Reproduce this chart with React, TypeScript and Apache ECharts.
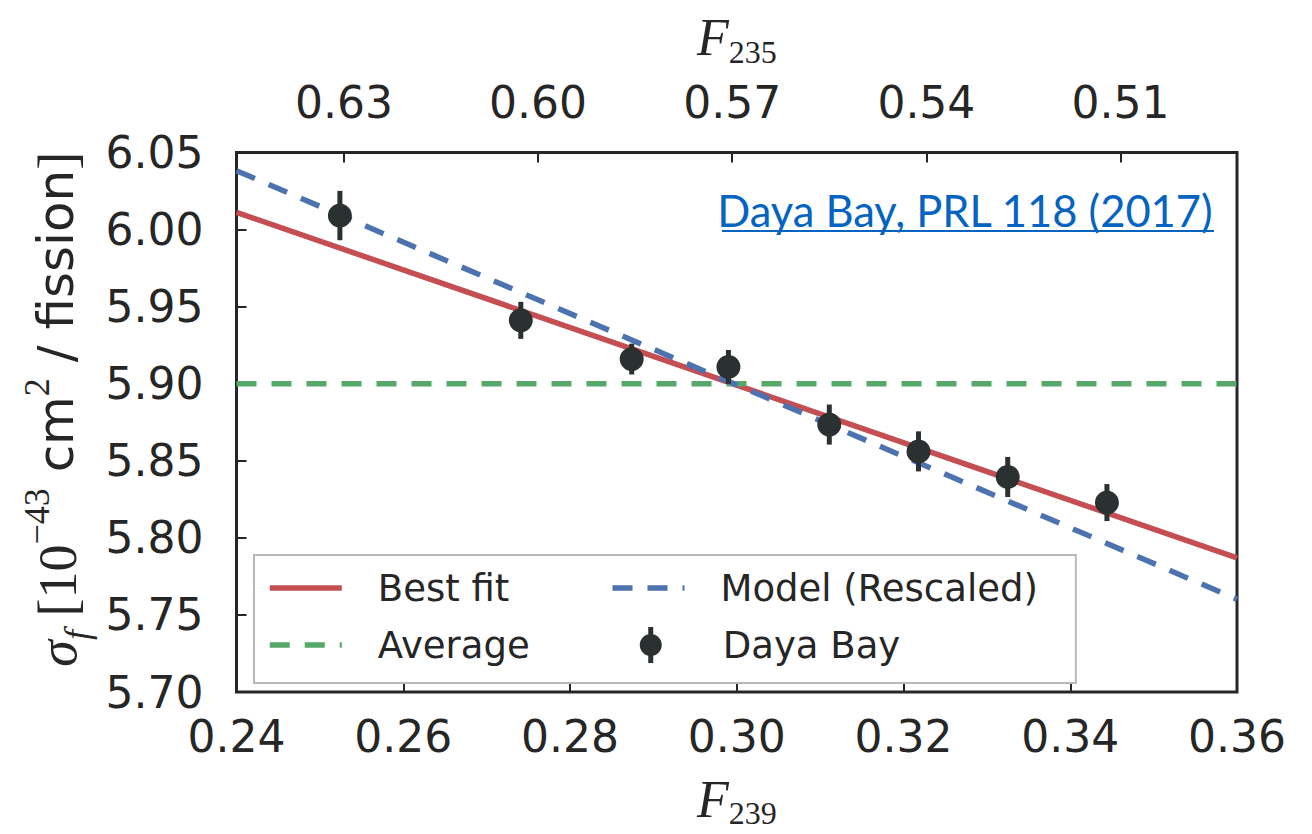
import React, { useEffect, useRef } from 'react';
import * as echarts from 'echarts';

// ---- data ----
const F239 = [0.2524, 0.2741, 0.2874, 0.299, 0.3111, 0.3218, 0.3325, 0.3444];
const SIGMA = [6.0091, 5.9411, 5.916, 5.9109, 5.8735, 5.8561, 5.8395, 5.8229];
const SIGMA_ERR = [0.016, 0.012, 0.01, 0.011, 0.013, 0.013, 0.013, 0.012];
const LINE_X = [0.24, 0.36];
const BEST_FIT_Y = [6.0112, 5.787];
const MODEL_Y = [6.0382, 5.7602];
const AVERAGE_Y = [5.9, 5.9];
const X_RANGE = [0.24, 0.36];
const X_INTERVAL = 0.02;
const Y_RANGE = [5.7, 6.05];
const Y_INTERVAL = 0.05;
const F235_TICKS = [0.63, 0.6, 0.57, 0.54, 0.51];
const F235_RANGE = [0.492, 0.6466];
const LEGEND_NAMES = ['Best fit', 'Model (Rescaled)', 'Average', 'Daya Bay'];
const CITATION = 'Daya Bay, PRL 118 (2017)';

const INK = '#262626';
const RED = '#C44E52';
const BLUE = '#4C72B0';
const GREEN = '#55A868';
const DOT = '#2b3130';
const SANS = 'DejaVu Sans';
const SERIF = 'Liberation Serif';

const fRich = {
  f: { fontFamily: SERIF, fontStyle: 'italic', fontSize: 52, lineHeight: 52, verticalAlign: 'top', color: INK },
  s: { fontFamily: SERIF, fontSize: 32, lineHeight: 32, verticalAlign: 'top', padding: [24, 0, 0, 0], color: INK },
};

export default function App() {
  const ref = useRef<HTMLDivElement>(null);
  useEffect(() => {
    if (!ref.current) return;
    const chart = echarts.init(ref.current, null, { renderer: 'svg' });
    const lineData = (ys: number[]) => LINE_X.map((x, i) => [x, ys[i]]);
    const points = F239.map((x, i) => [x, SIGMA[i]]);
    const bars = F239.map((x, i) => [x, SIGMA[i], SIGMA_ERR[i]]);
    const dash = [20, 15];
    const hiddenSymbol = { opacity: 0 };
    const legendLine = { width: 5.5 };
    chart.setOption({
      animation: false,
      backgroundColor: '#fff',
      grid: {
        left: 236.5, right: 75, top: 152.5, bottom: 132.5,
        show: true, borderColor: INK, borderWidth: 3, backgroundColor: 'transparent',
      },
      xAxis: [
        {
          type: 'value', position: 'bottom', min: X_RANGE[0], max: X_RANGE[1], interval: X_INTERVAL,
          axisLine: { show: false },
          axisTick: { inside: true, length: 10, lineStyle: { color: INK, width: 2 } },
          splitLine: { show: false },
          axisLabel: { margin: 22, fontFamily: SANS, fontSize: 44, color: INK, formatter: (v: number) => v.toFixed(2) },
          name: '{f|F}{s|239}', nameLocation: 'middle', nameGap: 81,
          nameTextStyle: { rich: fRich },
        },
        {
          type: 'value', position: 'top', inverse: true, min: F235_RANGE[0], max: F235_RANGE[1],
          axisLine: { show: false },
          axisTick: { inside: true, length: 10, lineStyle: { color: INK, width: 2 }, customValues: F235_TICKS },
          splitLine: { show: false },
          axisLabel: { margin: 28, fontFamily: SANS, fontSize: 44, color: INK, customValues: F235_TICKS, formatter: (v: number) => v.toFixed(2) },
          name: '{f|F}{s|235}', nameLocation: 'middle', nameGap: 89,
          nameTextStyle: { rich: fRich },
        },
      ],
      yAxis: {
        type: 'value', min: Y_RANGE[0], max: Y_RANGE[1], interval: Y_INTERVAL,
        axisLine: { show: false },
        axisTick: { inside: true, length: 10, lineStyle: { color: INK, width: 2 } },
        splitLine: { show: false },
        axisLabel: { margin: 33, fontFamily: SANS, fontSize: 44, color: INK, formatter: (v: number) => v.toFixed(2) },
        name: '{sig|σ}{sub|f}{br| [}{num|10}{sup|−43}{sans| cm}{sup2|2}{sans| / fission}{br|]}',
        nameLocation: 'middle', nameRotate: 90, nameGap: 143,
        nameTextStyle: {
          rich: {
            sig: { fontFamily: SERIF, fontStyle: 'italic', fontSize: 54, lineHeight: 54, verticalAlign: 'top', padding: [12, 0, 0, 26], color: INK },
            sub: { fontFamily: SERIF, fontStyle: 'italic', fontSize: 36, lineHeight: 36, verticalAlign: 'top', padding: [40, 0, 0, 0], color: INK },
            br: { fontFamily: SERIF, fontSize: 54, lineHeight: 54, verticalAlign: 'top', padding: [12, 0, 0, 0], color: INK },
            num: { fontFamily: SERIF, fontSize: 54, lineHeight: 54, verticalAlign: 'top', padding: [12, 0, 0, 0], color: INK },
            sup: { fontFamily: SERIF, fontSize: 36, lineHeight: 36, verticalAlign: 'top', color: INK },
            sup2: { fontFamily: SERIF, fontSize: 36, lineHeight: 36, verticalAlign: 'top', color: INK },
            sans: { fontFamily: SANS, fontSize: 50, lineHeight: 54, verticalAlign: 'top', padding: [12, 0, 0, 0], color: INK },
          },
        },
      },
      legend: {
        left: 254, top: 555, width: 900,
        padding: [9.5, 38, 14.5, 13],
        itemGap: 10, itemWidth: 72, itemHeight: 36,
        backgroundColor: '#fff', borderColor: '#b8b8b8', borderWidth: 2, borderRadius: 0,
        textStyle: {
          fontFamily: SANS, fontSize: 37, color: INK, width: 222, overflow: 'none', lineHeight: 47,
          padding: [0, 0, 0, 31],
        },
        data: [
          { name: LEGEND_NAMES[0], itemStyle: hiddenSymbol, lineStyle: legendLine },
          { name: LEGEND_NAMES[1], itemStyle: hiddenSymbol, lineStyle: legendLine },
          { name: LEGEND_NAMES[2], itemStyle: hiddenSymbol, lineStyle: legendLine, textStyle: { width: 252 } },
          {
            name: LEGEND_NAMES[3],
            icon: 'path://M8.5 0 H13.5 V36 H8.5 Z M0 18 A11 11 0 0 1 22 18 A11 11 0 0 1 0 18 Z',
          },
        ],
      },
      series: [
        {
          name: LEGEND_NAMES[0], type: 'line', data: lineData(BEST_FIT_Y), symbol: 'none', z: 2,
          lineStyle: { color: RED, width: 5.5 }, itemStyle: { color: RED },
        },
        {
          name: LEGEND_NAMES[2], type: 'line', data: lineData(AVERAGE_Y), symbol: 'none', z: 2,
          lineStyle: { color: GREEN, width: 5.5, type: dash }, itemStyle: { color: GREEN },
        },
        {
          name: LEGEND_NAMES[1], type: 'line', data: lineData(MODEL_Y), symbol: 'none', z: 2,
          lineStyle: { color: BLUE, width: 5.5, type: dash }, itemStyle: { color: BLUE },
        },
        {
          name: 'errors', type: 'custom', data: bars, z: 3, encode: { x: 0, y: 1 },
          renderItem: (_p: any, api: any) => {
            const x = api.value(0), y = api.value(1), e = api.value(2);
            const a = api.coord([x, y - e]);
            const b = api.coord([x, y + e]);
            return {
              type: 'line',
              shape: { x1: a[0], y1: a[1], x2: b[0], y2: b[1] },
              style: { stroke: DOT, lineWidth: 5 },
            };
          },
        },
        {
          name: LEGEND_NAMES[3], type: 'scatter', data: points, symbol: 'circle', symbolSize: 24, z: 4,
          itemStyle: { color: DOT, opacity: 1 },
        },
      ],
      graphic: [
        {
          type: 'text', right: 1312 - 1214, top: 188, z: 10,
          style: { text: CITATION, fontFamily: 'Lato', fontSize: 43.5, fill: '#0563C1' },
        },
        {
          type: 'line', z: 10,
          shape: { x1: 722, y1: 231, x2: 1214, y2: 231 },
          style: { stroke: '#0563C1', lineWidth: 2 },
        },
      ],
    });
    return () => chart.dispose();
  }, []);
  return <div ref={ref} style={{ position: 'fixed', left: 0, top: 0, width: 1312, height: 834, background: '#fff' }} />;
}
